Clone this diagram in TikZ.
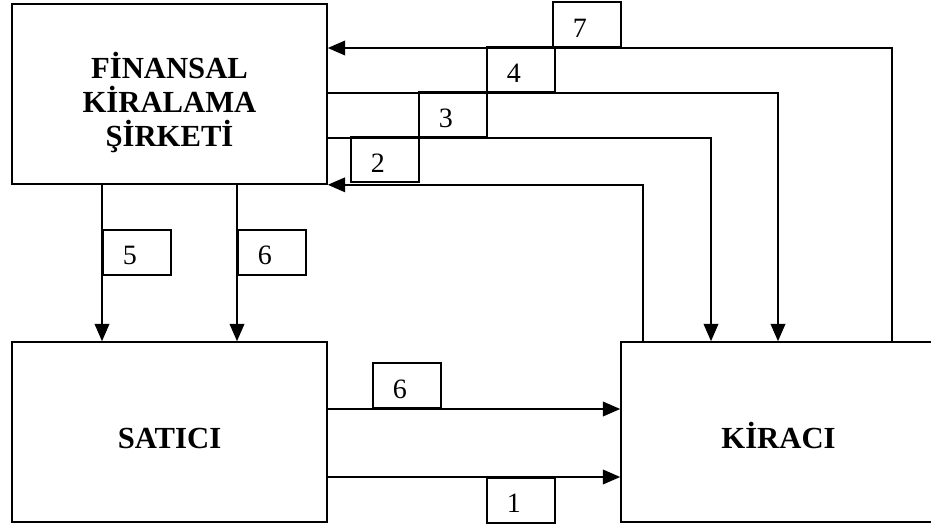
\documentclass[tikz,border=0pt]{standalone}
\usepackage{fontspec}
\setmainfont{Liberation Serif}
\usepackage{tikz}
\usetikzlibrary{arrows.meta}

\begin{document}
\begin{tikzpicture}[x=0.75pt, y=-0.75pt,
  party/.style={draw, line width=1.2pt, inner sep=0pt, minimum width=236.25pt,
    minimum height=135pt, align=center, font=\fontsize{23}{25.5}\selectfont\bfseries},
  tag/.style={draw, line width=1.2pt, inner xsep=15pt, inner ysep=0pt, text width=21pt,
    align=left, text height=26.25pt, text depth=7.5pt, font=\fontsize{21}{24}\selectfont},
  flow/.style={line width=1.2pt, -{Triangle[length=13pt, width=11pt]}}]
\clip (0,0) rectangle (931,529);
% the three parties
\node[party, text height=78pt, text depth=0pt] (fks) at (169.5,94) {FİNANSAL\\KİRALAMA\\ŞİRKETİ};
\node[party, text height=24pt, text depth=0pt] (satici) at (169.5,432) {SATICI};
\node[party, text height=24pt, text depth=0pt] (kiraci) at (778.5,432) {KİRACI};
% numbered steps
\node[tag, anchor=south west] (t7) at (552,48) {7};
\node[tag, anchor=south west] (t4) at (486,93) {4};
\node[tag, anchor=south west] (t3) at (418,138) {3};
\node[tag, anchor=south west] (t2) at (350,183) {2};
\node[tag, anchor=north west] (t5) at (102,229) {5};
\node[tag, anchor=north west] (t6a) at (237,229) {6};
\node[tag, anchor=south west] (t6b) at (372,409) {6};
\node[tag, anchor=north west] (t1) at (486,477) {1};
% flows
\draw[flow] (kiraci.north -| 892,0) |- (fks.east |- t7.south);
\draw[flow] (fks.east |- t4.south) -| (kiraci.north -| 778,0);
\draw[flow] (fks.east |- t3.south) -| (kiraci.north -| 711,0);
\draw[flow] (kiraci.north -| 643,0) |- (fks.south east);
\draw[flow] (fks.south -| t5.west) -- (satici.north -| t5.west);
\draw[flow] (fks.south -| t6a.west) -- (satici.north -| t6a.west);
\draw[flow] (satici.east |- t6b.south) -- (kiraci.west |- t6b.south);
\draw[flow] (satici.east |- t1.north) -- (kiraci.west |- t1.north);
\end{tikzpicture}
\end{document}
